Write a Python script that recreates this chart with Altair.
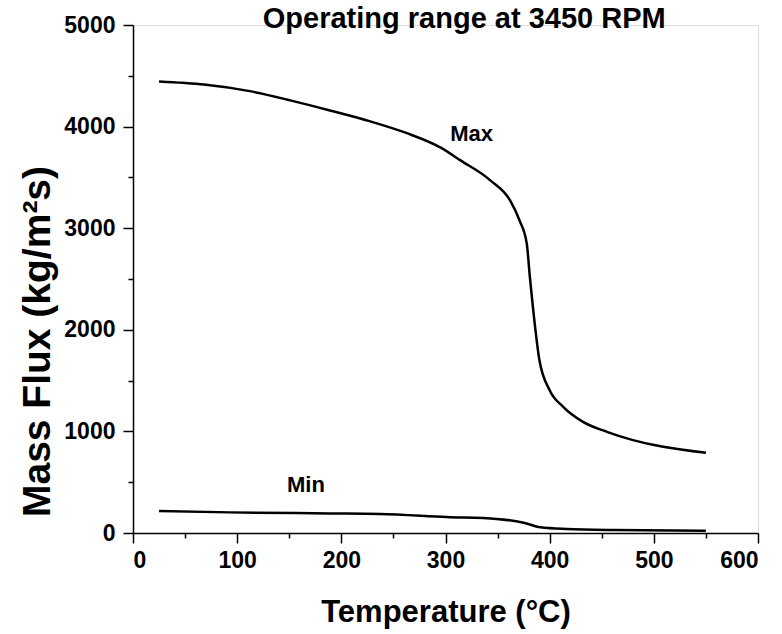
import altair as alt
import pandas as pd

# Max curve (Temperature °C, Mass flux kg/m2s)
max_T = [25, 48, 68, 112, 151, 189, 227, 263, 295, 314, 343, 362, 371, 378, 381, 386, 390, 400, 413, 432, 455, 480, 509, 550]
max_v = [4445, 4431, 4415, 4349, 4258, 4159, 4054, 3935, 3795, 3670, 3471, 3274, 3078, 2849, 2520, 2029, 1710, 1406, 1242, 1094, 996, 914, 849, 790]

# Min curve
min_T = [25, 93, 189, 237, 301, 349, 375, 391, 416, 461, 550]
min_v = [216, 203, 193, 187, 157, 138, 101, 56, 39, 29, 23]

# Curve labels
label_text = ["Max", "Min"]
label_T = [325, 166]
label_v = [3930, 472]

# In-plot title annotation
title_text = ["Operating range at 3450 RPM"]
title_T = [318]
title_v = [4966]

x_ticks = list(range(0, 601, 50))
y_ticks = list(range(0, 5001, 500))

FONT = "Liberation Sans"

df = pd.concat([
    pd.DataFrame({"T": max_T, "v": max_v, "series": "Max"}),
    pd.DataFrame({"T": min_T, "v": min_v, "series": "Min"}),
])
labels = pd.DataFrame({"text": label_text, "T": label_T, "v": label_v})
title_df = pd.DataFrame({"text": title_text, "T": title_T, "v": title_v})

x_scale = alt.Scale(domain=[0, 600], nice=False, zero=False)
y_scale = alt.Scale(domain=[0, 5000], nice=False)

x_axis = alt.Axis(
    title="Temperature (°C)",
    values=x_ticks,
    labelExpr="datum.value % 100 === 0 ? datum.label : ''",
    tickSize={"condition": {"test": "datum.value % 100 === 0", "value": 10}, "value": 5},
    grid=False,
    labelOverlap=False,
    labelFont=FONT, labelFontSize=23, labelFontWeight="bold", labelColor="black",
    labelPadding=6,
    titleFont=FONT, titleFontSize=31, titleFontWeight="bold", titleColor="black",
    titlePadding=25,
    domainColor="black", domainWidth=1.5, tickColor="black", tickWidth=1.5,
)
y_axis = alt.Axis(
    title="Mass Flux (kg/m²s)",
    values=y_ticks,
    labelExpr="datum.value % 1000 === 0 ? datum.label : ''",
    tickSize={"condition": {"test": "datum.value % 1000 === 0", "value": 10}, "value": 5},
    format="d",
    grid=False,
    labelOverlap=False,
    labelFont=FONT, labelFontSize=23, labelFontWeight="bold", labelColor="black",
    labelPadding=8,
    titleFont=FONT, titleFontSize=39, titleFontWeight="bold", titleColor="black",
    titleX=-84, titleY=316, titleBaseline="alphabetic", titleAngle=-90,
    domainColor="black", domainWidth=1.5, tickColor="black", tickWidth=1.5,
)

lines = alt.Chart(df).mark_line(color="black", strokeWidth=2.5, interpolate="monotone").encode(
    x=alt.X("T:Q", scale=x_scale, axis=x_axis),
    y=alt.Y("v:Q", scale=y_scale, axis=y_axis),
    detail="series:N",
)

texts = alt.Chart(labels).mark_text(
    font=FONT, fontSize=22, fontWeight="bold", color="black", baseline="middle", align="center"
).encode(
    x=alt.X("T:Q", scale=x_scale),
    y=alt.Y("v:Q", scale=y_scale),
    text="text:N",
)

title_mark = alt.Chart(title_df).mark_text(
    font=FONT, fontSize=29, fontWeight="bold", color="black", baseline="alphabetic", align="center"
).encode(
    x=alt.X("T:Q", scale=x_scale),
    y=alt.Y("v:Q", scale=y_scale),
    text="text:N",
)

chart = alt.layer(lines, texts, title_mark).properties(
    width=625,
    height=508,
    autosize=alt.AutoSizeParams(type="none"),
    padding={"left": 133, "top": 25, "right": 24, "bottom": 101},
).configure_view(stroke=None).configure(background="white")

chart.save("out.html", embed_options={"renderer": "svg", "actions": False})
